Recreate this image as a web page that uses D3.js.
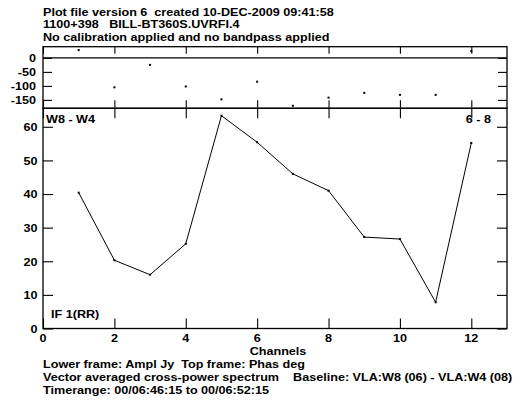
<!DOCTYPE html>
<html>
<head>
<meta charset="utf-8">
<script src="https://cdn.jsdelivr.net/npm/d3@7"></script>
<style>
  html, body { margin: 0; padding: 0; background: #fff; }
  svg text { font-family: "Liberation Sans", Arial, Helvetica, sans-serif; font-weight: bold; fill: #000; white-space: pre; }
</style>
</head>
<body>
<svg id="chart" width="521" height="403"></svg>
<script>
// Cross-power spectrum, baseline W8 - W4
const channels = [1, 2, 3, 4, 5, 6, 7, 8, 9, 10, 11, 12];
const amplitude = [40.4, 20.3, 16.0, 25.2, 63.3, 55.4, 46.0, 41.0, 27.2, 26.6, 7.8, 55.2];
const phase = [28, -105, -25, -102, -148, -85, -171, -142, -125, -132, -132, 24];
const channelTicks = [0, 2, 4, 6, 8, 10, 12];
const amplitudeTicks = [0, 10, 20, 30, 40, 50, 60];
const phaseTicks = [0, -50, -100, -150];

const headerLines = [
  "Plot file version 6  created 10-DEC-2009 09:41:58",
  "1100+398   BILL-BT360S.UVRFI.4",
  "No calibration applied and no bandpass applied"
];
const footerLines = [
  "Lower frame: Ampl Jy  Top frame: Phas deg",
  "Vector averaged cross-power spectrum    Baseline: VLA:W8 (06) - VLA:W4 (08)",
  "Timerange: 00/06:46:15 to 00/06:52:15"
];

const svg = d3.select("#chart");
const FS = 10.6;      // font size
const SX = 1.19;      // horizontal stretch of the plot lettering

const left = 43, right = 507;
const phaseTop = 46.7, split = 108.3, ampBottom = 328.5;

const x = d3.scaleLinear().domain([0, 13]).range([left, right]);
const yAmp = d3.scaleLinear().domain([0, 65.5]).range([ampBottom, split]);
const yPh = d3.scaleLinear().domain([-180, 40]).range([split, phaseTop]);

function label(g, tx, ty, str, anchor) {
  g.append("text")
    .attr("transform", `translate(${tx},${ty}) scale(${SX},1)`)
    .attr("text-anchor", anchor || "start")
    .style("font-size", FS + "px")
    .text(str);
}

// header
headerLines.forEach((s, i) => label(svg, left, 16 + i * 12.3, s));

// frames
function frame(y0, y1) {
  svg.append("rect")
    .attr("x", left).attr("y", y0)
    .attr("width", right - left).attr("height", y1 - y0)
    .attr("fill", "none").attr("stroke", "#000").attr("stroke-width", 1.3);
}
frame(phaseTop, split);
frame(split, ampBottom);

function styleAxis(g) {
  g.select(".domain").remove();
  g.selectAll(".tick line").attr("stroke", "#000").attr("stroke-width", 1.1);
  g.selectAll(".tick text").remove();
}

// phase frame ticks
svg.append("g").attr("transform", `translate(0,${phaseTop})`)
  .call(d3.axisTop(x).tickValues(channelTicks).tickSize(-7)).call(styleAxis);
svg.append("g").attr("transform", `translate(0,${split})`)
  .call(d3.axisBottom(x).tickValues(channelTicks).tickSize(-8)).call(styleAxis);
svg.append("g").attr("transform", `translate(${left},0)`)
  .call(d3.axisLeft(yPh).tickValues(phaseTicks).tickSize(-9)).call(styleAxis);
svg.append("g").attr("transform", `translate(${right},0)`)
  .call(d3.axisRight(yPh).tickValues(phaseTicks).tickSize(-9)).call(styleAxis);

// zero phase line
svg.append("line")
  .attr("x1", left).attr("x2", right)
  .attr("y1", yPh(0)).attr("y2", yPh(0))
  .attr("stroke", "#000").attr("stroke-width", 1.2);

// amplitude frame ticks
svg.append("g").attr("transform", `translate(0,${split})`)
  .call(d3.axisTop(x).tickValues(channelTicks).tickSize(-10)).call(styleAxis);
svg.append("g").attr("transform", `translate(0,${ampBottom})`)
  .call(d3.axisBottom(x).tickValues(channelTicks).tickSize(-10)).call(styleAxis);
svg.append("g").attr("transform", `translate(${left},0)`)
  .call(d3.axisLeft(yAmp).tickValues(amplitudeTicks).tickSize(-10)).call(styleAxis);
svg.append("g").attr("transform", `translate(${right},0)`)
  .call(d3.axisRight(yAmp).tickValues(amplitudeTicks).tickSize(-10)).call(styleAxis);

// tick labels
phaseTicks.forEach(v => label(svg, 36, yPh(v) + 4, String(v), "end"));
amplitudeTicks.forEach(v => label(svg, 37.5, yAmp(v) + 4.3, String(v), "end"));
channelTicks.forEach(v => label(svg, x(v), 342.3, String(v), "middle"));

// phase points
svg.append("g").selectAll("rect")
  .data(channels)
  .join("rect")
  .attr("x", (d) => x(d) - 1)
  .attr("y", (d, i) => yPh(phase[i]) - 1)
  .attr("width", 2).attr("height", 2)
  .attr("fill", "#000");

// amplitude line
const line = d3.line().x((d) => x(d)).y((d, i) => yAmp(amplitude[i]));
svg.append("path")
  .datum(channels)
  .attr("d", line)
  .attr("fill", "none").attr("stroke", "#000").attr("stroke-width", 1);
svg.append("g").selectAll("rect")
  .data(channels)
  .join("rect")
  .attr("x", (d) => x(d) - 1)
  .attr("y", (d, i) => yAmp(amplitude[i]) - 1)
  .attr("width", 2).attr("height", 2)
  .attr("fill", "#000");

// frame annotations
label(svg, 46, 123, "W8 - W4");
label(svg, 491, 123, "6 - 8", "end");
label(svg, 51, 318, "IF 1(RR)");

// footer
label(svg, 278, 355, "Channels", "middle");
footerLines.forEach((s, i) => label(svg, left, 368.3 + i * 13, s));
</script>
</body>
</html>
